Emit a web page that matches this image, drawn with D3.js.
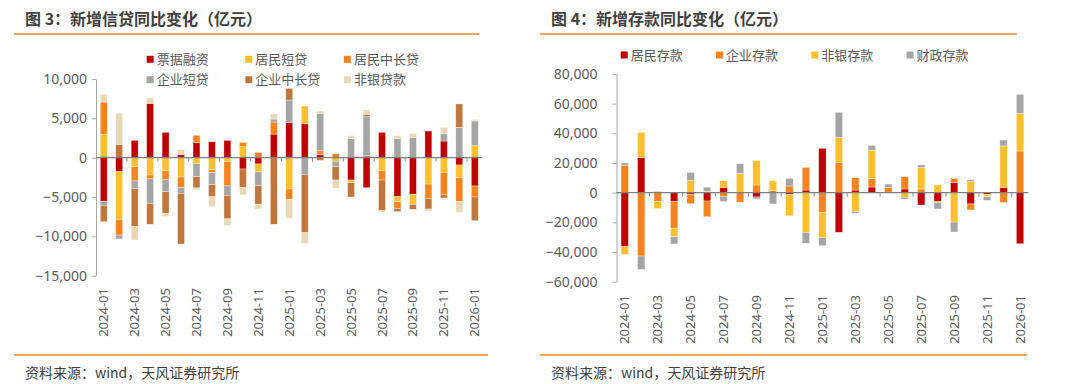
<!DOCTYPE html>
<html>
<head>
<meta charset="utf-8">
<script src="https://cdn.jsdelivr.net/npm/d3@7"></script>
<style>
  body { margin: 0; background: #fff; }
  svg text { font-family: "Noto Sans CJK SC", "Noto Sans", sans-serif; }
</style>
</head>
<body>
<svg id="chart" width="1080" height="384"></svg>
<script>
const months = [
  "2024-01","2024-02","2024-03","2024-04","2024-05","2024-06","2024-07","2024-08","2024-09","2024-10","2024-11","2024-12",
  "2025-01","2025-02","2025-03","2025-04","2025-05","2025-06","2025-07","2025-08","2025-09","2025-10","2025-11","2025-12",
  "2026-01"
];

// 图3：新增信贷同比变化（亿元）
const loanKeys = ["票据融资", "居民短贷", "居民中长贷", "企业短贷", "企业中长贷", "非银贷款"];
const billFinancing   = [-5550,-1780, 2200, 6900, 3220,  420, 1950, 2030, 2200,-1440, -800, 3000, 4490, 4360,  420,    0,-2840,-3810, 3220,-4960,-4660, 3390, 2120, -930,-3600];
const hhShortLoan     = [ 3000,-6060,-1140,-2200,-1650,-2460, -760,-1530, -500, 1400,-1000,    0,-3980, 2200,    0, -470, -340,    0,-1650, -640,-1270,-3350,-1860,-1610, 1530];
const hhLongLoan      = [ 4070,-2000,-1820, -500,-1100,-1360,  900, -380,-3090,  550,  680, 1530,-1310,    0,  470,  500,    0,  250,-1190, -850,    0,-1820,-2800,-3050,-1400];
const corpShortLoan   = [ -500, -500, -970,-3100,-1570, -720,-1650,-1530,-1190,    0,-1740,  380, 2840,-2120, 4750, -680, 2420, 4960,    0, 2420, 2540,    0,  970, 3860, 3140];
const corpLongLoan    = [-2080, 1700,-4830,-2670,-2750,-6440,-1440,-1530,-3000,-2330,-2370,-8470, 1480,-7420, -340,-1690,-1820,  300,-3900, -420, -640,-1360, -470, 2970,-3000];
const nonBankLoan     = [ 1000, 3940,-1700,  680, -420,  600, -250,-1230, -850, -970, -630,  640,-2420,-1360,  300,-1020,  380,  550, -200,  380,  550, -250,  760,-1360,  200];
const loanColors = ["#C00000", "#FDBF2D", "#F5841F", "#A5A5A5", "#C0773E", "#E8D8B6"];
const loanTicks = [10000, 5000, 0, -5000, -10000, -15000];

// 图4：新增存款同比变化（亿元）
const depositKeys = ["居民存款", "企业存款", "非银存款", "财政存款"];
const hhDeposit     = [-36400, 23800,     0, -6100, -1000, -5600,  3600,     0, -2900,     0, -1100,  1800, 29900,-26700,  1800,  3800,     0,  2500, -8300, -5800,  7000, -7600, -1100,  3600,-34400];
const corpDeposit   = [ 18400,-42700, -6100,-17800, -6500,-10600, -2500, -6500,  5200,  1600,  4500, 15300,-13300, 20200,  8300,  5800,  3600,  8300,  2500,  -900,  2700, -4000,     0, -6700, 28100];
const nonBankDeposit= [ -5200, 16900, -4700, -5800,  8100,  1000,  4500, 13000, 16400,  6500,-14400,-26700,-16900, 17100,-12800, 19100,     0, -3100, 14400,  5200,-19800,  7400, -1600, 27900, 25400];
const fiscalDeposit = [  1600, -9000,   900, -4900,  5600,  2700, -3400,  6500, -1300, -7600,  5200, -7400, -5600, 16900, -1100,  3100,  2200, -1300,  1800, -4300, -6700,  1300, -2500,  4000, 12800];
const depositColors = ["#C00000", "#F5841F", "#FDBF2D", "#A5A5A5"];
const depositTicks = [80000, 60000, 40000, 20000, 0, -20000, -40000, -60000];

const svg = d3.select("#chart");
const textColor = "#595959";
const ruleColor = "#F4832A";

function drawPanel(cfg) {
  const g = svg.append("g");

  // title + rules
  g.append("text")
    .attr("x", cfg.left + 11).attr("y", 25)
    .attr("font-size", 16).attr("font-weight", "bold").attr("fill", "#3F3F3F")
    .text(cfg.title);
  g.append("line")
    .attr("x1", cfg.left).attr("x2", cfg.topRuleEnd).attr("y1", 34).attr("y2", 34)
    .attr("stroke", ruleColor).attr("stroke-width", 1.5);
  g.append("line")
    .attr("x1", cfg.left).attr("x2", cfg.bottomRuleEnd).attr("y1", 355).attr("y2", 355)
    .attr("stroke", ruleColor).attr("stroke-width", 1.5);
  g.append("text")
    .attr("x", cfg.left + 11).attr("y", 378)
    .attr("font-size", 14).attr("fill", "#404040")
    .text("资料来源：wind，天风证券研究所");

  const x = d3.scaleBand()
    .domain(months)
    .range(cfg.xRange)
    .paddingInner(0.55)
    .paddingOuter(0.275);
  const y = d3.scaleLinear().domain(cfg.yDomain).range(cfg.yRange);

  const rows = months.map((m, i) => {
    const r = { month: m };
    cfg.keys.forEach((k, j) => { r[k] = cfg.values[j][i]; });
    return r;
  });
  const series = d3.stack()
    .keys(cfg.keys)
    .offset(d3.stackOffsetDiverging)(rows);

  // y axis
  const yAxis = g.append("g")
    .attr("transform", `translate(${cfg.xRange[0]},0)`)
    .call(d3.axisLeft(y)
      .tickValues(cfg.ticks)
      .tickSize(4)
      .tickSizeOuter(0)
      .tickPadding(cfg.tickPadding)
      .tickFormat(d3.format(",")));
  yAxis.select(".domain").attr("stroke", "#A6A6A6");
  yAxis.selectAll(".tick line").attr("stroke", "#A6A6A6");
  yAxis.selectAll(".tick text")
    .attr("font-size", 14).attr("fill", textColor)
    .style("font-family", '"Noto Sans", sans-serif');

  // bars
  g.append("g").selectAll("g")
    .data(series)
    .join("g")
    .attr("fill", (d, i) => cfg.colors[i])
    .selectAll("rect")
    .data(d => d)
    .join("rect")
    .attr("x", d => x(d.data.month))
    .attr("width", x.bandwidth())
    .attr("y", d => y(Math.max(d[0], d[1])))
    .attr("height", d => Math.abs(y(d[0]) - y(d[1])))
    .attr("stroke", "#fff")
    .attr("stroke-width", 0.5)
    .attr("stroke-opacity", 0.7);

  // zero line with ticks every two months
  const y0 = y(0);
  const x0 = cfg.xRange[0];
  g.append("g").selectAll("line")
    .data(d3.range(2, months.length, 2))
    .join("line")
    .attr("x1", i => x0 + i * x.step())
    .attr("x2", i => x0 + i * x.step())
    .attr("y1", y0).attr("y2", y0 + 4)
    .attr("stroke", "#8C8C8C");
  g.append("line")
    .attr("x1", x0).attr("x2", cfg.xRange[1])
    .attr("y1", y0).attr("y2", y0)
    .attr("stroke", "#808080").attr("stroke-width", 1.3);

  // x labels (every other month, rotated)
  g.append("g").selectAll("text")
    .data(months.filter((m, i) => i % 2 === 0))
    .join("text")
    .attr("transform", m => `translate(${x(m) + x.bandwidth() / 2},${cfg.labelTop}) rotate(-90)`)
    .attr("text-anchor", "end")
    .attr("dy", "0.35em")
    .attr("font-size", 13)
    .attr("fill", textColor)
    .style("font-family", '"Noto Sans", sans-serif')
    .text(m => m);

  // legend
  const leg = g.append("g").selectAll("g")
    .data(cfg.keys)
    .join("g")
    .attr("transform", (d, i) => `translate(${cfg.legendPos(i)[0]},${cfg.legendPos(i)[1]})`);
  leg.append("rect")
    .attr("x", 0).attr("y", -3.5)
    .attr("width", 7).attr("height", 7)
    .attr("fill", (d, i) => cfg.colors[i]);
  leg.append("text")
    .attr("x", 10).attr("dy", "0.35em")
    .attr("font-size", 13).attr("fill", textColor)
    .text(d => d);
}

drawPanel({
  title: "图 3：新增信贷同比变化（亿元）",
  left: 14, topRuleEnd: 479, bottomRuleEnd: 488,
  keys: loanKeys,
  values: [billFinancing, hhShortLoan, hhLongLoan, corpShortLoan, corpLongLoan, nonBankLoan],
  colors: loanColors,
  ticks: loanTicks,
  yDomain: [-15000, 10000], yRange: [275.7, 79],
  xRange: [96, 482.5],
  tickPadding: 5,
  labelTop: 288,
  legendPos: i => [146.7 + (i % 3) * 98.6, i < 3 ? 59.3 : 79.7]
});

drawPanel({
  title: "图 4：新增存款同比变化（亿元）",
  left: 540, topRuleEnd: 1017, bottomRuleEnd: 1027,
  keys: depositKeys,
  values: [hhDeposit, corpDeposit, nonBankDeposit, fiscalDeposit],
  colors: depositColors,
  ticks: depositTicks,
  yDomain: [-60000, 80000], yRange: [281.7, 74],
  xRange: [616.5, 1028.3],
  tickPadding: 15,
  labelTop: 295,
  legendPos: i => [620.7 + i * 95.3, 55]
});
</script>
</body>
</html>
